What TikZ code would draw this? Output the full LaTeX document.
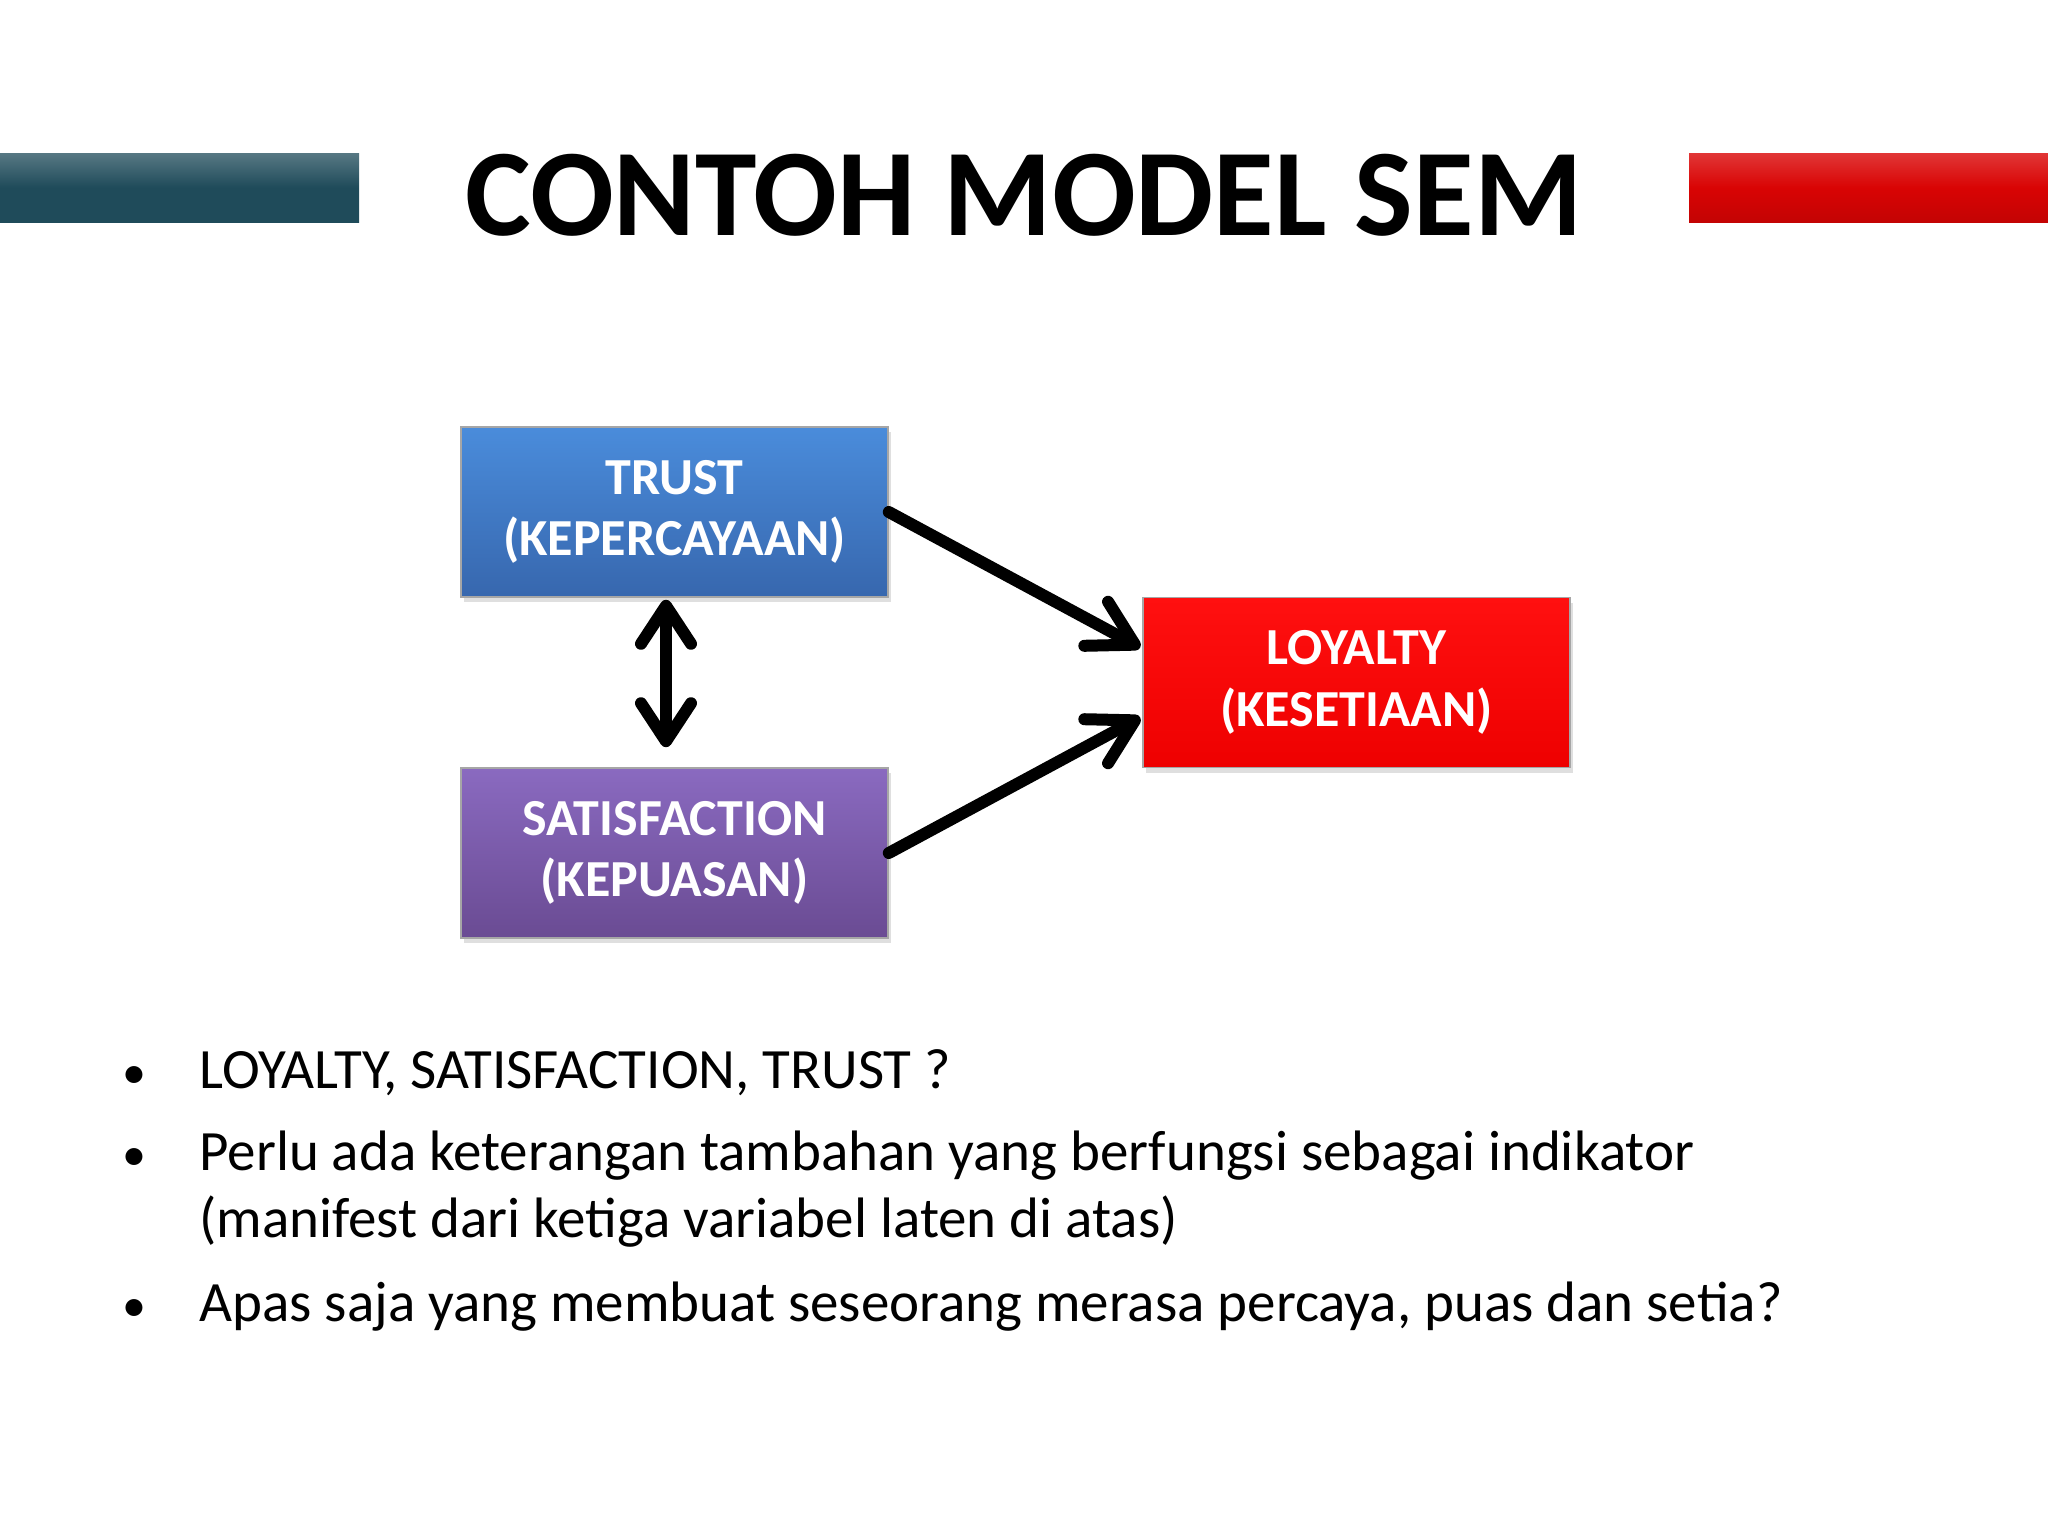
\documentclass[tikz,border=0pt]{standalone}
\usepackage{fontspec}
\setmainfont{Carlito}
\usetikzlibrary{arrows.meta,calc,shadows}
\definecolor{barteal}{HTML}{1F4B5A}
\definecolor{barred}{HTML}{D90404}
\definecolor{trustTop}{HTML}{4A8CDB}
\definecolor{trustBot}{HTML}{3767AE}
\definecolor{satTop}{HTML}{8A6AC0}
\definecolor{satBot}{HTML}{6A4B93}
\definecolor{loyTop}{HTML}{FF1010}
\definecolor{loyBot}{HTML}{EE0000}
\tikzset{
  latent/.style={draw=black!35, line width=0.8pt, minimum width=213.5pt, minimum height=85pt,
    align=center, text=white, font=\fontsize{26}{30.7}\selectfont\bfseries,
    drop shadow={shadow xshift=1.5pt, shadow yshift=-2.5pt, opacity=0.25}},
  path/.style={line width=6pt, line cap=round, -{Straight Barb[round,length=22pt,width=25pt]}},
  dblpath/.style={line width=6pt, line cap=round, {Straight Barb[round,length=19pt,width=25pt]}-{Straight Barb[round,length=19pt,width=25pt]}},
  bullettext/.style={anchor=base west, inner sep=0pt, font=\fontsize{28.5}{33}\selectfont, align=left},
  bulletdot/.style={anchor=base, inner sep=0pt, font=\fontsize{24}{33}\selectfont}
}
\begin{document}
\begin{tikzpicture}[x=0.5pt,y=-0.5pt]
\useasboundingbox[fill=white] (0,0) rectangle (2048,1536);
% header bars
\shade[top color=barteal!75!white, bottom color=barteal, middle color=barteal] (0,153) rectangle (359,222);
\shade[top color=barred!80!white, bottom color=barred!90!black, middle color=barred] (1689,153) rectangle (2048,222);
\node[font=\fontsize{62}{66}\selectfont\bfseries, inner sep=0pt] (title) at (1024,195) {CONTOH MODEL SEM};
% latent variables
\node[latent, top color=trustTop, bottom color=trustBot] (trust) at (674.5,512) {TRUST\\(KEPERCAYAAN)};
\node[latent, top color=satTop, bottom color=satBot] (sat) at (674.5,853) {SATISFACTION\\(KEPUASAN)};
\node[latent, top color=loyTop, bottom color=loyBot] (loy) at (1356.5,682.5) {LOYALTY\\(KESETIAAN)};
% paths
\draw[path] (trust.east) -- ($(loy.west)+(-2,-35)$);
\draw[path] (sat.east) -- ($(loy.west)+(-2,35)$);
\draw[dblpath] ($(trust.south)+(-8.5,2)$) -- ($(sat.north)+(-8.5,-20)$);
% bullets
\node[bulletdot] (b1) at (134,1088) {•};
\node[bullettext] (t1) at (199,1088) {LOYALTY, SATISFACTION, TRUST ?};
\node[bulletdot] (b2) at (134,1170) {•};
\node[bullettext] (t2) at (199,1170) {Perlu ada keterangan tambahan yang berfungsi sebagai indikator};
\node[bullettext] (t2b) at (199,1237) {(manifest dari ketiga variabel laten di atas)};
\node[bulletdot] (b3) at (134,1321) {•};
\node[bullettext] (t3) at (199,1321) {Apas saja yang membuat seseorang merasa percaya, puas dan setia?};
\end{tikzpicture}
\end{document}
